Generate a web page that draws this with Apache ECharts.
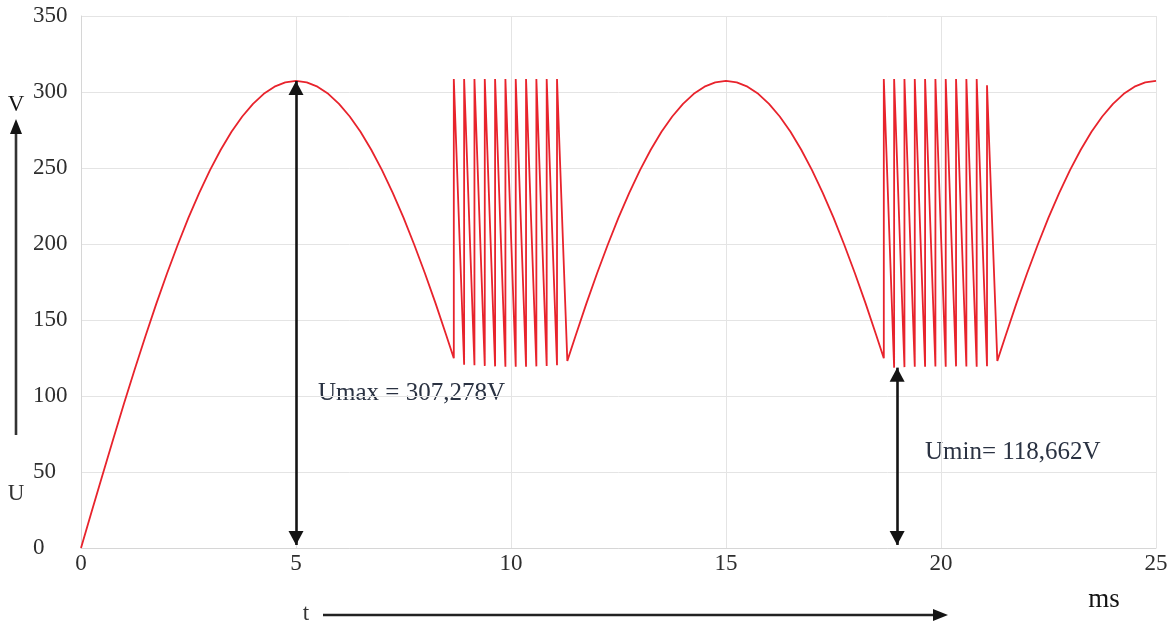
<!DOCTYPE html>
<html>
<head>
<meta charset="utf-8">
<title>U(t)</title>
<script src="https://cdn.jsdelivr.net/npm/echarts@6/dist/echarts.min.js"></script>
<style>
  html, body { margin: 0; padding: 0; background: #ffffff; }
  #chart { width: 1172px; height: 630px; }
</style>
</head>
<body>
<div id="chart"></div>
<script>
// Axis ticks
const xTicks = [0, 5, 10, 15, 20, 25];          // ms
const yTicks = [0, 50, 100, 150, 200, 250, 300, 350]; // V

// Rectified half-wave from start-up to the first burst (t in ms, U in V)
const waveAT = [0, 0.25, 0.5, 0.75, 1, 1.25, 1.5, 1.75, 2, 2.25, 2.5, 2.75, 3, 3.25, 3.5, 3.75, 4, 4.25, 4.5, 4.75,
  5, 5.25, 5.5, 5.75, 6, 6.25, 6.5, 6.75, 7, 7.25, 7.5, 7.75, 8, 8.25, 8.5, 8.67];
const waveAU = [0, 24.1, 48.1, 71.7, 95.0, 117.6, 139.5, 160.6, 180.6, 199.5, 217.3, 233.7, 248.6, 262.0, 273.8, 283.9, 292.2, 298.8, 303.5, 306.3,
  307.278, 306.3, 303.5, 298.8, 292.2, 283.9, 273.8, 262.0, 248.6, 233.7, 217.3, 199.5, 180.6, 160.6, 139.5, 124.8];

// First switching burst: rise instants, peak values, floor values
const burst1Rise = [8.67, 8.91, 9.15, 9.39, 9.63, 9.87, 10.11, 10.35, 10.59, 10.83, 11.07];
const burst1Peak = [308.5, 308.5, 308.5, 308.5, 308.5, 308.5, 308.5, 308.5, 308.5, 308.5, 308.5];
const burst1Floor = [120.6, 120.2, 119.8, 119.5, 119.3, 119.2, 119.3, 119.5, 119.8, 120.2];

// Second half-wave between the bursts
const waveBT = [11.31, 11.5, 11.75, 12, 12.25, 12.5, 12.75, 13, 13.25, 13.5, 13.75, 14, 14.25, 14.5, 14.75,
  15, 15.25, 15.5, 15.75, 16, 16.25, 16.5, 16.75, 17, 17.25, 17.5, 17.75, 18, 18.25, 18.5, 18.67];
const waveBU = [123.1, 139.5, 160.6, 180.6, 199.5, 217.3, 233.7, 248.6, 262.0, 273.8, 283.9, 292.2, 298.8, 303.5, 306.3,
  307.278, 306.3, 303.5, 298.8, 292.2, 283.9, 273.8, 262.0, 248.6, 233.7, 217.3, 199.5, 180.6, 160.6, 139.5, 124.8];

// Second switching burst
const burst2Rise = [18.67, 18.91, 19.15, 19.39, 19.63, 19.87, 20.11, 20.35, 20.59, 20.83, 21.07];
const burst2Peak = [308.5, 308.5, 308.5, 308.5, 308.5, 308.5, 308.5, 308.5, 308.5, 308.5, 304.5];
const burst2Floor = [118.662, 119.0, 119.3, 119.2, 119.4, 119.3, 119.5, 119.4, 119.2, 119.6];

// Last rising half-wave
const waveCT = [21.31, 21.5, 21.75, 22, 22.25, 22.5, 22.75, 23, 23.25, 23.5, 23.75, 24, 24.25, 24.5, 24.75, 25];
const waveCU = [123.1, 139.5, 160.6, 180.6, 199.5, 217.3, 233.7, 248.6, 262.0, 273.8, 283.9, 292.2, 298.8, 303.5, 306.3, 307.278];

// Annotated extremes
const uMax = 307.278;
const uMin = 118.662;
const uMaxAt = 5;
const uMinAt = 18.98;

function wave(ts, us) {
  return ts.map((t, i) => [t, us[i]]);
}

// Sawtooth: vertical rise at each instant to the peak, then a linear fall to the next floor
function burst(rise, peak, floor) {
  const pts = [];
  for (let i = 0; i < rise.length; i++) {
    pts.push([rise[i], peak[i]]);
    if (i < floor.length) pts.push([rise[i + 1], floor[i]]);
  }
  return pts;
}

const points = []
  .concat(wave(waveAT, waveAU))
  .concat(burst(burst1Rise, burst1Peak, burst1Floor))
  .concat(wave(waveBT, waveBU))
  .concat(burst(burst2Rise, burst2Peak, burst2Floor))
  .concat(wave(waveCT, waveCU));

const serif = 'Liberation Serif';
const gridColor = '#e4e4e4';
const inkColor = '#141414';
const labelColor = '#2e2e2e';

const chart = echarts.init(document.getElementById('chart'), null, { renderer: 'canvas' });

chart.setOption({
  animation: false,
  backgroundColor: '#ffffff',
  grid: { left: 81, right: 16, top: 16, bottom: 82, containLabel: false, outerBoundsMode: 'none' },
  xAxis: {
    type: 'value',
    min: xTicks[0],
    max: xTicks[xTicks.length - 1],
    interval: xTicks[1] - xTicks[0],
    axisLine: { show: true, lineStyle: { color: '#d6d6d6', width: 1 } },
    axisTick: { show: false },
    splitLine: { show: true, lineStyle: { color: gridColor, width: 1 } },
    axisLabel: {
      margin: 4,
      color: labelColor,
      fontFamily: serif,
      fontSize: 23,
      showMinLabel: true,
      showMaxLabel: true
    }
  },
  yAxis: {
    type: 'value',
    min: yTicks[0],
    max: yTicks[yTicks.length - 1],
    interval: yTicks[1] - yTicks[0],
    axisLine: { show: true, lineStyle: { color: '#d6d6d6', width: 1 } },
    axisTick: { show: false },
    splitLine: { show: true, lineStyle: { color: gridColor, width: 1 } },
    axisLabel: {
      margin: 48,
      align: 'left',
      color: labelColor,
      fontFamily: serif,
      fontSize: 23
    }
  },
  series: [{
    name: 'U',
    type: 'line',
    data: points,
    showSymbol: false,
    symbol: 'none',
    sampling: null,
    lineStyle: { color: '#e8232c', width: 1.8 },
    z: 2,
    markLine: {
      silent: true,
      animation: false,
      symbol: ['triangle', 'triangle'],
      symbolSize: [15, 14],
      symbolOffset: [[0, 7], [0, 7]],
      label: { show: false },
      lineStyle: { color: inkColor, width: 2.6, type: 'solid' },
      emphasis: { disabled: true },
      data: [
        [{ coord: [uMaxAt, 2] }, { coord: [uMaxAt, uMax] }],
        [{ coord: [uMinAt, 2] }, { coord: [uMinAt, uMin] }]
      ]
    }
  }],
  graphic: [
    {
      type: 'text', left: 318, top: 381,
      style: { text: 'Umax = 307,278V', font: '25px "Liberation Serif"', fill: '#2a3242' }
    },
    {
      type: 'text', left: 925, top: 440,
      style: { text: 'Umin= 118,662V', font: '25px "Liberation Serif"', fill: '#2a3242' }
    },
    {
      type: 'text', x: 16, y: 105,
      style: { text: 'V', font: '23px "Liberation Serif"', fill: inkColor, align: 'center', verticalAlign: 'middle' }
    },
    {
      type: 'text', x: 16, y: 494,
      style: { text: 'U', font: '23px "Liberation Serif"', fill: '#333333', align: 'center', verticalAlign: 'middle' }
    },
    {
      type: 'line',
      shape: { x1: 16, y1: 435, x2: 16, y2: 132 },
      style: { stroke: '#333333', lineWidth: 2.6 }
    },
    {
      type: 'polygon',
      shape: { points: [[16, 119], [10, 134], [22, 134]] },
      style: { fill: inkColor }
    },
    {
      type: 'text', x: 306, y: 614,
      style: { text: 't', font: '23px "Liberation Serif"', fill: '#333333', align: 'center', verticalAlign: 'middle' }
    },
    {
      type: 'line',
      shape: { x1: 323, y1: 615, x2: 934, y2: 615 },
      style: { stroke: '#222222', lineWidth: 2.6 }
    },
    {
      type: 'polygon',
      shape: { points: [[948, 615], [933, 609], [933, 621]] },
      style: { fill: inkColor }
    },
    {
      type: 'text', x: 1104, y: 600,
      style: { text: 'ms', font: '27px "Liberation Serif"', fill: inkColor, align: 'center', verticalAlign: 'middle' }
    }
  ]
});
</script>
</body>
</html>
